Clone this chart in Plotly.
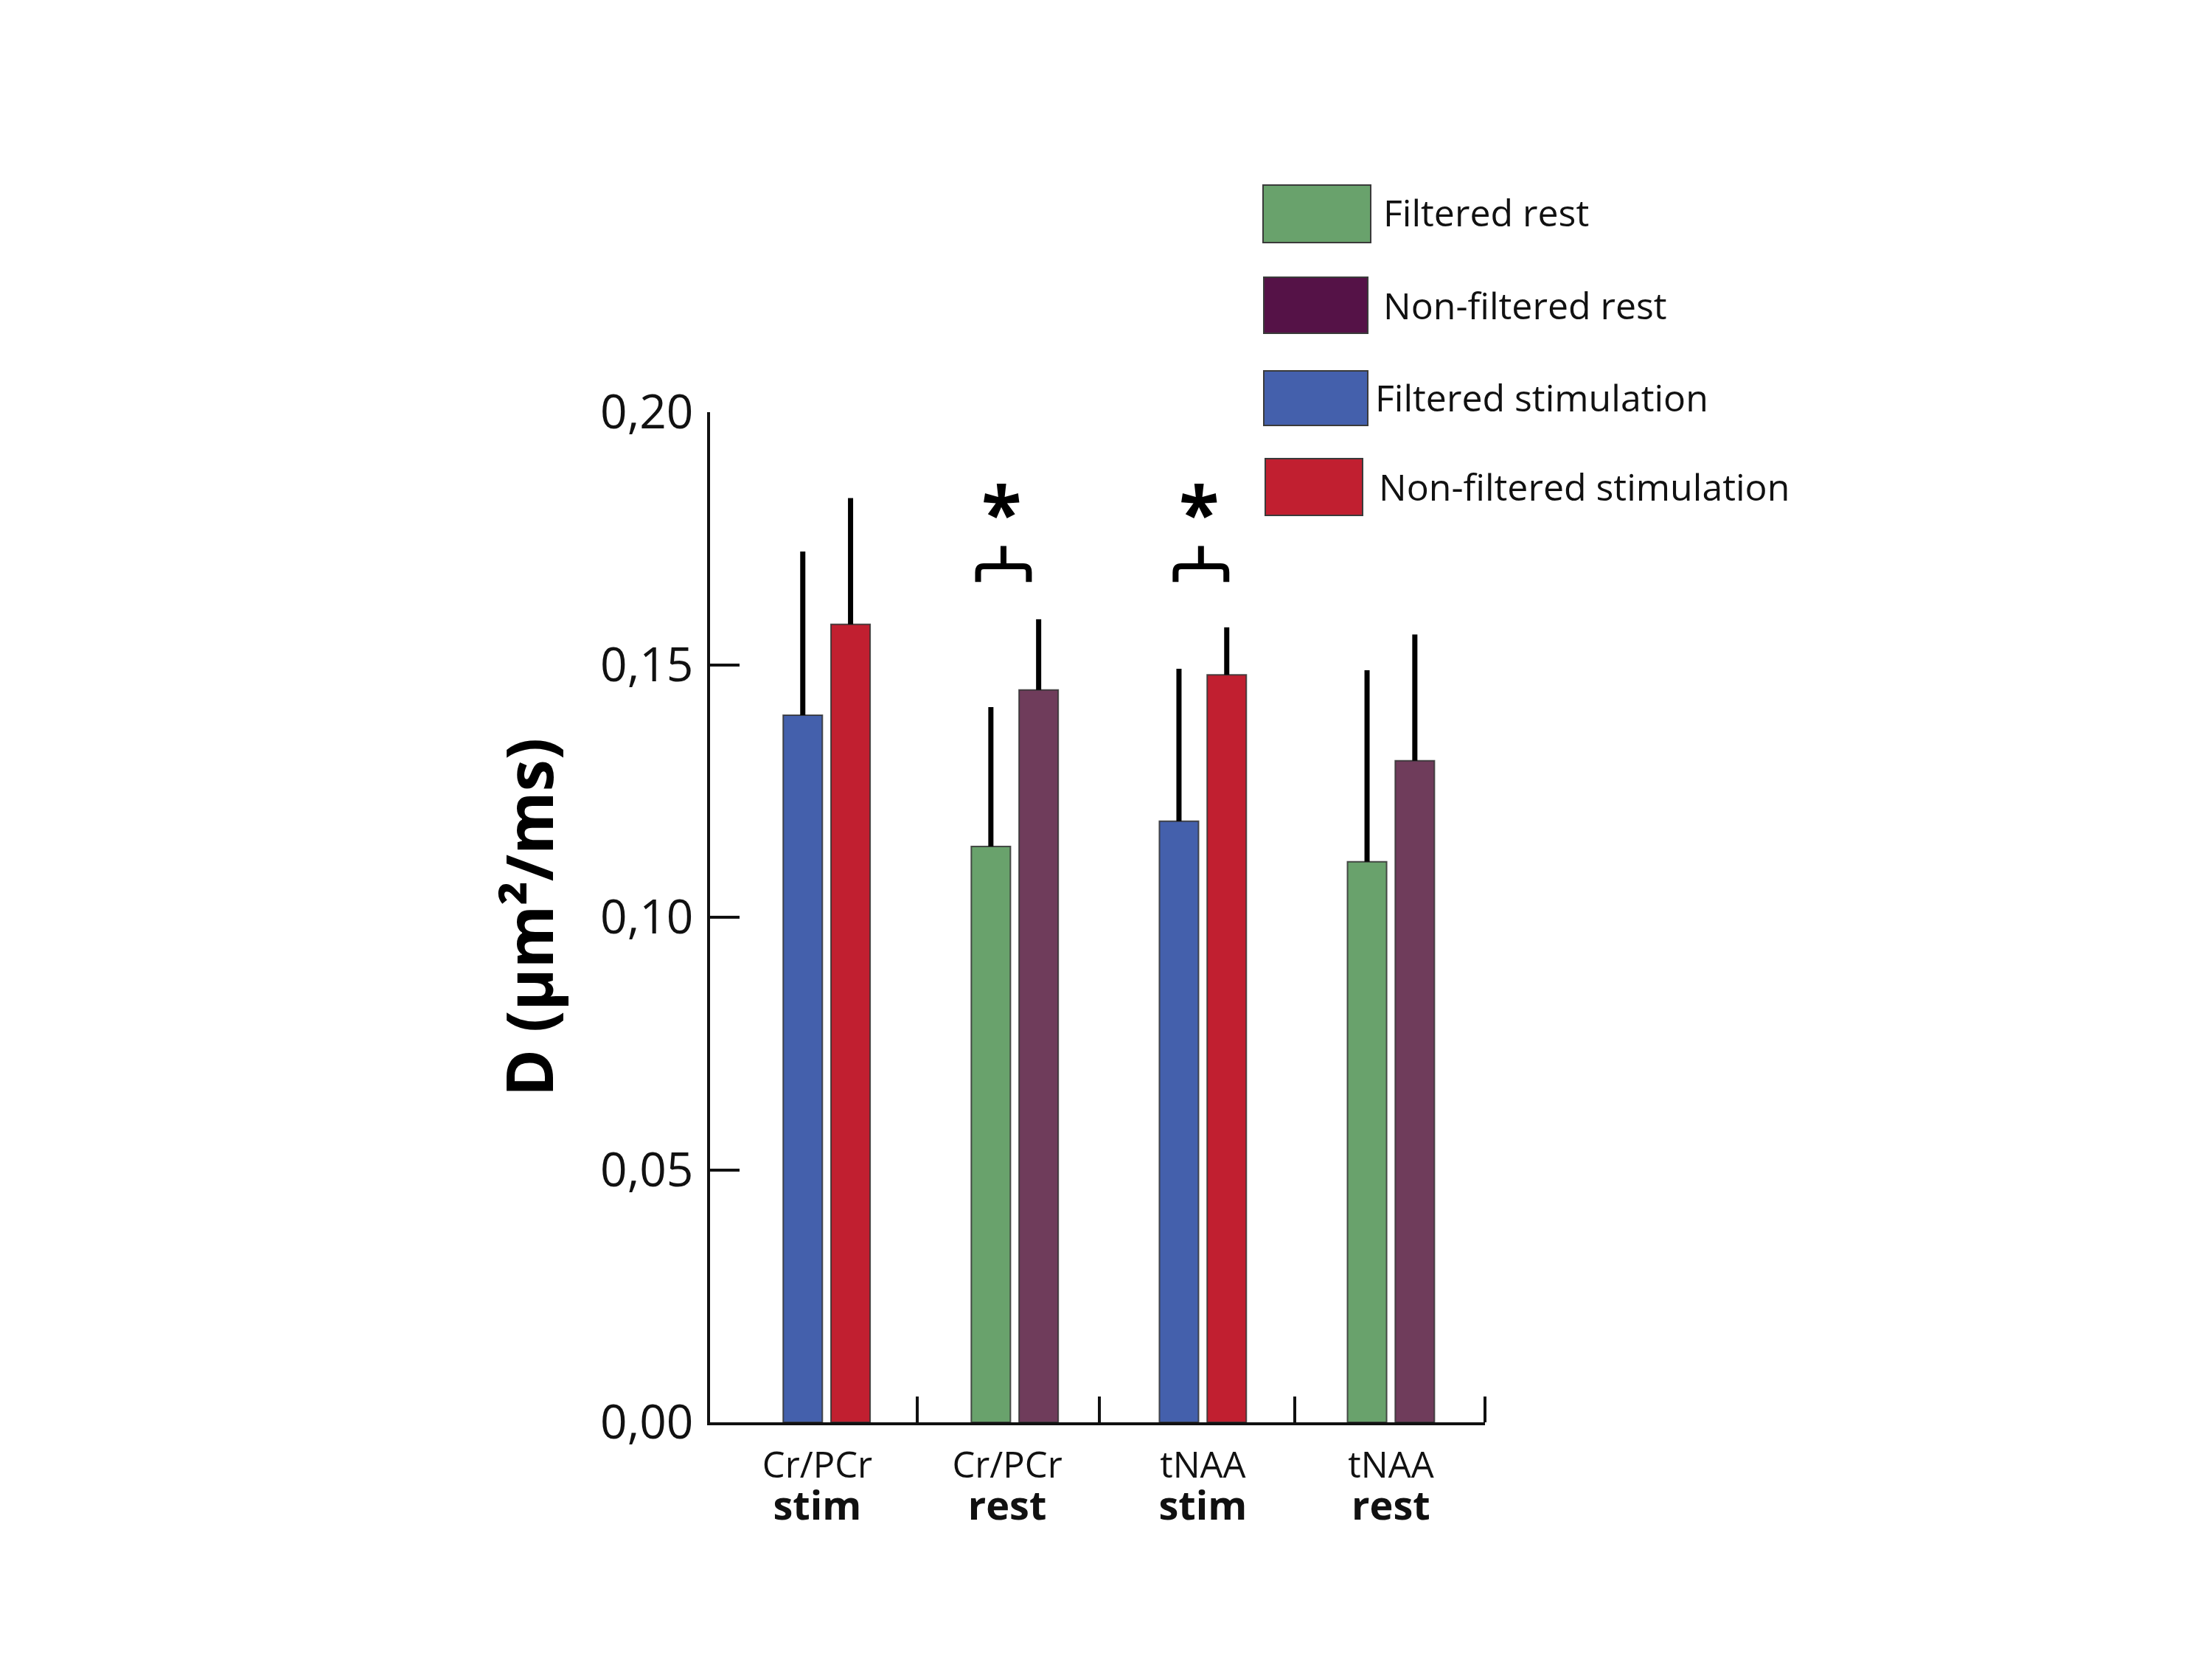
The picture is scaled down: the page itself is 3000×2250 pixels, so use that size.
import plotly.graph_objects as go

# ---------------- data ----------------
group_pos = [1, 2, 3, 4]
label_pos = [0.95, 1.96, 3.0, 4.0]
group_metabolite = ["Cr/PCr", "Cr/PCr", "tNAA", "tNAA"]
group_condition = ["stim", "rest", "stim", "rest"]
group_bounds = [1.48, 2.45, 3.49, 4.5]

series_names = ["Filtered rest", "Non-filtered rest", "Filtered stimulation", "Non-filtered stimulation"]

# stimulation groups (Cr/PCr stim, tNAA stim)
stim_x = [1, 3]
filt_stim_mean = [0.140, 0.119]
filt_stim_err = [0.0324, 0.0302]
nonfilt_stim_mean = [0.158, 0.148]
nonfilt_stim_err = [0.0250, 0.0094]

# rest groups (Cr/PCr rest, tNAA rest)
rest_x = [2, 4]
filt_rest_mean = [0.114, 0.111]
filt_rest_err = [0.0276, 0.0379]
nonfilt_rest_mean = [0.145, 0.131]
nonfilt_rest_err = [0.0140, 0.0250]

y_ticks = [0.0, 0.05, 0.10, 0.15, 0.20]

# significance markers
sig_x = [1.94, 2.99]
sig_label = "*"

# ---------------- style ----------------
C_GREEN = "#69A26C"
C_PURPLE_BAR = "#6F3C5B"
C_PURPLE_LEG = "#551247"
C_BLUE = "#4460AC"
C_RED = "#C11F30"
FONT = "Open Sans"

W, H = 3000, 2250
ML, MR, MT, MB = 955, 994, 551, 329
PW, PH = W - ML - MR, H - MT - MB

BAR_W = 0.208
OFF_L = -0.231
OFF_R = 0.023

def px_x(p):
    return (p - ML) / PW

def px_y(p):
    return (H - MB - p) / PH

fig = go.Figure()

def add_bars(name, xs, ys, errs, color, offset):
    fig.add_trace(go.Bar(
        name=name, x=xs, y=ys, width=BAR_W, offset=offset,
        marker=dict(color=color, line=dict(color="rgba(50,50,50,0.85)", width=2)),
        error_y=dict(type="data", symmetric=False, array=errs, arrayminus=[0] * len(errs),
                     thickness=7, width=0, color="black"),
        showlegend=False,
    ))

add_bars(series_names[2], stim_x, filt_stim_mean, filt_stim_err, C_BLUE, OFF_L)
add_bars(series_names[3], stim_x, nonfilt_stim_mean, nonfilt_stim_err, C_RED, OFF_R)
add_bars(series_names[0], rest_x, filt_rest_mean, filt_rest_err, C_GREEN, OFF_L)
add_bars(series_names[1], rest_x, nonfilt_rest_mean, nonfilt_rest_err, C_PURPLE_BAR, OFF_R)

# significance brackets (rounded corners)
BR_HALF = 0.135
BR_LOW, BR_MID, BR_TOP = 0.1664, 0.1695, 0.1735
RX, RY = 0.03, 0.0012
STAR_Y = 0.1803
for sx in sig_x:
    xl, xr = sx - BR_HALF, sx + BR_HALF
    path = (f"M {xl} {BR_LOW} L {xl} {BR_MID - RY} Q {xl} {BR_MID} {xl + RX} {BR_MID} "
            f"L {xr - RX} {BR_MID} Q {xr} {BR_MID} {xr} {BR_MID - RY} L {xr} {BR_LOW} "
            f"M {sx} {BR_MID} L {sx} {BR_TOP}")
    fig.add_shape(type="path", xref="x", yref="y", path=path,
                  line=dict(color="black", width=8))
    fig.add_annotation(x=sx - 0.01, y=STAR_Y, xref="x", yref="y", text=f"<b>{sig_label}</b>",
                       showarrow=False, font=dict(family=FONT, size=100, color="black"),
                       xanchor="center", yanchor="middle")

# legend (manual, large swatches), pixel boxes on the page
leg_colors = [C_GREEN, C_PURPLE_LEG, C_BLUE, C_RED]
leg_boxes = [(1705, 1851, 243, 321), (1706, 1847, 368, 444), (1706, 1847, 495, 569), (1708, 1840, 614, 691)]
leg_text_x = [1866, 1866, 1855, 1860]
leg_text_y = [280, 406, 531, 652]
for name, col, (x0, x1, y0, y1), tx, ty in zip(series_names, leg_colors, leg_boxes, leg_text_x, leg_text_y):
    fig.add_shape(type="rect", xref="paper", yref="paper",
                  x0=px_x(x0), x1=px_x(x1), y0=px_y(y1), y1=px_y(y0),
                  fillcolor=col, line=dict(color="#3a3a3a", width=2))
    fig.add_annotation(x=px_x(tx), y=px_y(ty), xref="paper", yref="paper",
                       text=name, showarrow=False, xanchor="left", yanchor="middle",
                       font=dict(family=FONT, size=50, color="#111111"))

ticktext = [f"<span style='font-size:49px'>{m}</span><br><span style='font-size:54px'><b>{c}</b></span>"
            for m, c in zip(group_metabolite, group_condition)]

fig.update_layout(
    width=W, height=H,
    margin=dict(l=ML, r=MR, t=MT, b=MB),
    paper_bgcolor="white", plot_bgcolor="white",
    barmode="overlay",
    separators=",.",
    font=dict(family=FONT, color="#111111"),
    xaxis=dict(
        range=[0.38, 4.5], tickvals=label_pos, ticktext=ticktext,
        ticks="", showline=True, linecolor="#111111", linewidth=4,
        showgrid=False, zeroline=False, ticklabelstandoff=18,
        tickfont=dict(family=FONT, size=44, color="#111111"),
        minor=dict(tickvals=group_bounds, ticks="inside", ticklen=35, tickwidth=3.5, tickcolor="#111111",
                   showgrid=False),
    ),
    yaxis=dict(
        range=[0, 0.2], tickvals=y_ticks, tickformat=".2f",
        ticks="inside", ticklen=40, tickwidth=3.5, tickcolor="#111111",
        showline=True, linecolor="#111111", linewidth=3.5,
        showgrid=False, zeroline=False, ticklabelstandoff=6,
        tickfont=dict(family=FONT, size=64, color="#111111"),
        title=dict(text="<b>D (µm²/ms)</b>", font=dict(family=FONT, size=87, color="black"), standoff=36),
    ),
)

fig.write_html("out.html")
